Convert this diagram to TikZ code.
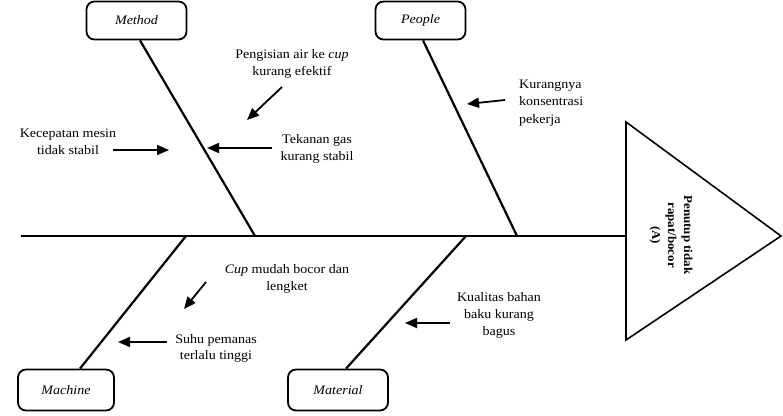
\documentclass[tikz,border=0pt]{standalone}
\usepackage{fontspec}
\setmainfont{Liberation Serif}[FakeStretch=1.08]
\usetikzlibrary{arrows.meta}
\begin{document}
\begin{tikzpicture}[x=1pt,y=-1pt,
  catbox/.style={draw,line width=1.8pt,rounded corners=8pt,inner sep=0pt,
    font=\fontsize{13}{15}\selectfont\itshape},
  bone/.style={line width=2.2pt},
  lbl/.style={align=center,inner sep=0pt,font=\fontsize{13}{17.5}\selectfont},
  arr/.style={line width=1.8pt,-{Triangle[length=12pt,width=10pt]}}]
\useasboundingbox (0,0) rectangle (783,415);

% category boxes
\node[catbox,minimum width=100pt,minimum height=38pt] (method) at (136.5,20.5) {Method};
\node[catbox,minimum width=90pt,minimum height=38pt] (people) at (420.5,20.5) {People};
\node[catbox,minimum width=96pt,minimum height=41pt] (machine) at (66,390) {Machine};
\node[catbox,minimum width=100pt,minimum height=41pt] (material) at (338,390) {Material};

% spine and head
\coordinate (sp0) at (21,236);
\coordinate (tA) at (626,122);
\coordinate (tB) at (781,236);
\coordinate (tC) at (626,340);
\coordinate (spE) at (626,236);
\draw[line width=2pt] (sp0) -- (spE);
\draw[line width=1.6pt,line join=miter] (tA) -- (tB) -- (tC) -- cycle;
\node[rotate=-90,align=center,inner sep=0pt,font=\fontsize{12}{16}\selectfont\bfseries] (effect) at (671,235)
  {Penutup tidak\\rapat/bocor\\(A)};

% bones
\coordinate (jMethod) at (255,236);
\coordinate (jPeople) at (517,236);
\coordinate (jMachine) at (186,236);
\coordinate (jMaterial) at (466,236);
\draw[bone] ([xshift=3.5pt]method.south) -- (jMethod);
\draw[bone] ([xshift=2.5pt]people.south) -- (jPeople);
\draw[bone] ([xshift=14pt]machine.north) -- (jMachine);
\draw[bone] ([xshift=8pt]material.north) -- (jMaterial);

% cause labels
\node[lbl] (pengisian) at (292,64) {Pengisian air ke \textit{cup}\\kurang efektif};
\node[lbl] (tekanan) at (317,149) {Tekanan gas\\kurang stabil};
\node[lbl] (kecepatan) at (68,142) {Kecepatan mesin\\tidak stabil};
\node[lbl,align=left,anchor=west] (kurangnya) at (519,103) {Kurangnya\\konsentrasi\\pekerja};
\node[lbl] (cupmudah) at (287,279) {\textit{Cup} mudah bocor dan\\lengket};
\node[lbl,font=\fontsize{13}{16}\selectfont] (suhu) at (216,348) {Suhu pemanas\\terlalu tinggi};
\node[lbl,font=\fontsize{13}{17}\selectfont] (kualitas) at (499,315) {Kualitas bahan\\baku kurang\\bagus};

% arrows
\coordinate (aPengisian) at (247,120);
\coordinate (aTekanan) at (207,148);
\coordinate (aKecepatan) at (169,150);
\coordinate (aKurangnya) at (467,104);
\coordinate (aCup) at (184,309);
\coordinate (aSuhu) at (118,342);
\coordinate (aKualitas) at (405,323);
\draw[arr] (282,87) -- (aPengisian);
\draw[arr] (tekanan.west |- 0,148) ++(-8,0) -- (aTekanan);
\draw[arr] (113,150) -- (aKecepatan);
\draw[arr] (505,100) -- (aKurangnya);
\draw[arr] (206,282) -- (aCup);
\draw[arr] (167,342) -- (aSuhu);
\draw[arr] (450,323) -- (aKualitas);
\end{tikzpicture}
\end{document}
